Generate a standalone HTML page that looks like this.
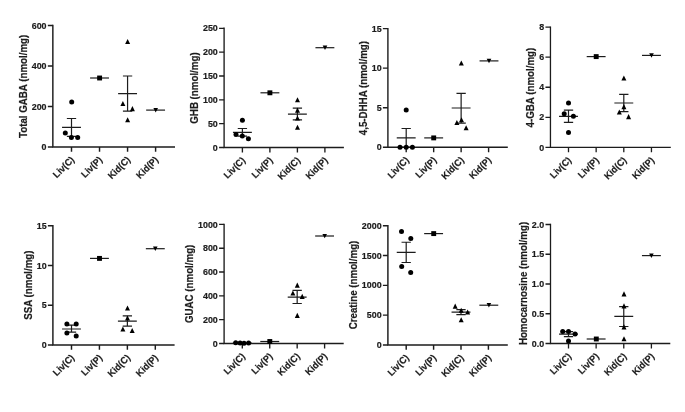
<!DOCTYPE html>
<html><head><meta charset="utf-8"><title>chart</title>
<style>html,body{margin:0;padding:0;background:#fff;overflow:hidden;}svg{display:block;will-change:transform;}text{font-family:"Liberation Sans",sans-serif;font-weight:bold;fill:#1c1c1c;stroke:#1c1c1c;stroke-width:0.2px;}.t{font-size:9.5px;}.x{font-size:9.5px;}.y{font-size:10.1px;}</style></head><body>
<svg width="685" height="412" viewBox="0 0 685 412">
<rect width="685" height="412" fill="#ffffff"/>
<g stroke="#1c1c1c" stroke-width="1.45" fill="none">
<path d="M52.85 24.77 V146.90 H175.00"/>
<path d="M47.85 146.90 H52.85 M47.85 106.43 H52.85 M47.85 65.97 H52.85 M47.85 25.50 H52.85"/>
<path d="M71.50 146.90 V151.80 M99.53 146.90 V151.80 M127.57 146.90 V151.80 M155.60 146.90 V151.80"/>
</g>
<text class="t" transform="translate(46.55 150.00) scale(0.937 1)" text-anchor="end">0</text>
<text class="t" transform="translate(46.55 109.53) scale(0.937 1)" text-anchor="end">200</text>
<text class="t" transform="translate(46.55 69.07) scale(0.937 1)" text-anchor="end">400</text>
<text class="t" transform="translate(46.55 28.60) scale(0.937 1)" text-anchor="end">600</text>
<text class="x" transform="translate(74.90 160.30) rotate(-45) scale(0.957 1)" text-anchor="end">Liv(C)</text>
<text class="x" transform="translate(102.93 160.30) rotate(-45) scale(0.957 1)" text-anchor="end">Liv(P)</text>
<text class="x" transform="translate(130.97 160.30) rotate(-45) scale(0.957 1)" text-anchor="end">Kid(C)</text>
<text class="x" transform="translate(159.00 160.30) rotate(-45) scale(0.957 1)" text-anchor="end">Kid(P)</text>
<text class="y" transform="translate(26.90 138.00) rotate(-90) scale(0.965 1)">Total GABA (nmol/mg)</text>
<path d="M62.05 127.40 H80.95 M71.50 118.50 V136.30 M66.85 118.50 H76.15 M66.85 136.30 H76.15" stroke="#1c1c1c" stroke-width="1.2" fill="none"/>
<g fill="#000">
<circle cx="71.70" cy="101.90" r="2.5"/>
<circle cx="65.30" cy="133.10" r="2.5"/>
<circle cx="71.40" cy="137.50" r="2.5"/>
<circle cx="77.70" cy="137.50" r="2.5"/>
</g>
<path d="M90.08 78.00 H108.98" stroke="#1c1c1c" stroke-width="1.2" fill="none"/>
<g fill="#000">
<rect x="97.15" y="75.55" width="4.9" height="4.9"/>
</g>
<path d="M118.12 93.70 H137.02 M127.57 76.00 V111.20 M122.92 76.00 H132.22 M122.92 111.20 H132.22" stroke="#1c1c1c" stroke-width="1.2" fill="none"/>
<g fill="#000">
<path d="M127.60 39.00 L130.10 44.10 L125.10 44.10 Z"/>
<path d="M122.90 101.00 L125.40 106.10 L120.40 106.10 Z"/>
<path d="M132.40 106.10 L134.90 111.20 L129.90 111.20 Z"/>
<path d="M127.60 117.20 L130.10 122.30 L125.10 122.30 Z"/>
</g>
<path d="M146.15 110.10 H165.05" stroke="#1c1c1c" stroke-width="1.2" fill="none"/>
<g fill="#000">
<path d="M155.70 112.40 L158.00 108.00 L153.40 108.00 Z"/>
</g>
<g stroke="#1c1c1c" stroke-width="1.35" fill="none">
<path d="M224.10 27.62 V147.50 H343.90"/>
<path d="M219.10 147.50 H224.10 M219.10 123.66 H224.10 M219.10 99.82 H224.10 M219.10 75.98 H224.10 M219.10 52.14 H224.10 M219.10 28.30 H224.10"/>
<path d="M242.40 147.50 V152.40 M269.90 147.50 V152.40 M297.40 147.50 V152.40 M324.90 147.50 V152.40"/>
</g>
<text class="t" transform="translate(217.80 150.60) scale(0.937 1)" text-anchor="end">0</text>
<text class="t" transform="translate(217.80 126.76) scale(0.937 1)" text-anchor="end">50</text>
<text class="t" transform="translate(217.80 102.92) scale(0.937 1)" text-anchor="end">100</text>
<text class="t" transform="translate(217.80 79.08) scale(0.937 1)" text-anchor="end">150</text>
<text class="t" transform="translate(217.80 55.24) scale(0.937 1)" text-anchor="end">200</text>
<text class="t" transform="translate(217.80 31.40) scale(0.937 1)" text-anchor="end">250</text>
<text class="x" transform="translate(245.80 160.90) rotate(-45) scale(0.957 1)" text-anchor="end">Liv(C)</text>
<text class="x" transform="translate(273.30 160.90) rotate(-45) scale(0.957 1)" text-anchor="end">Liv(P)</text>
<text class="x" transform="translate(300.80 160.90) rotate(-45) scale(0.957 1)" text-anchor="end">Kid(C)</text>
<text class="x" transform="translate(328.30 160.90) rotate(-45) scale(0.957 1)" text-anchor="end">Kid(P)</text>
<text class="y" transform="translate(197.80 123.70) rotate(-90) scale(0.965 1)">GHB (nmol/mg)</text>
<path d="M232.95 132.40 H251.85 M242.40 128.50 V136.20 M237.75 128.50 H247.05 M237.75 136.20 H247.05" stroke="#1c1c1c" stroke-width="1.2" fill="none"/>
<g fill="#000">
<circle cx="242.40" cy="120.20" r="2.5"/>
<circle cx="236.00" cy="134.60" r="2.5"/>
<circle cx="242.30" cy="135.90" r="2.5"/>
<circle cx="248.40" cy="138.75" r="2.5"/>
</g>
<path d="M260.45 92.80 H279.35" stroke="#1c1c1c" stroke-width="1.2" fill="none"/>
<g fill="#000">
<rect x="267.45" y="90.35" width="4.9" height="4.9"/>
</g>
<path d="M287.95 114.10 H306.85 M297.40 108.20 V119.90 M292.75 108.20 H302.05 M292.75 119.90 H302.05" stroke="#1c1c1c" stroke-width="1.2" fill="none"/>
<g fill="#000">
<path d="M297.50 97.20 L300.00 102.30 L295.00 102.30 Z"/>
<path d="M297.50 107.60 L300.00 112.70 L295.00 112.70 Z"/>
<path d="M297.50 115.50 L300.00 120.60 L295.00 120.60 Z"/>
<path d="M297.50 124.70 L300.00 129.80 L295.00 129.80 Z"/>
</g>
<path d="M315.45 47.70 H334.35" stroke="#1c1c1c" stroke-width="1.2" fill="none"/>
<g fill="#000">
<path d="M325.00 50.00 L327.30 45.60 L322.70 45.60 Z"/>
</g>
<g stroke="#1c1c1c" stroke-width="1.4" fill="none">
<path d="M387.90 27.90 V147.30 H507.80"/>
<path d="M382.90 147.30 H387.90 M382.90 107.73 H387.90 M382.90 68.17 H387.90 M382.90 28.60 H387.90"/>
<path d="M406.20 147.30 V152.20 M433.67 147.30 V152.20 M461.13 147.30 V152.20 M488.60 147.30 V152.20"/>
</g>
<text class="t" transform="translate(381.60 150.40) scale(0.937 1)" text-anchor="end">0</text>
<text class="t" transform="translate(381.60 110.83) scale(0.937 1)" text-anchor="end">5</text>
<text class="t" transform="translate(381.60 71.27) scale(0.937 1)" text-anchor="end">10</text>
<text class="t" transform="translate(381.60 31.70) scale(0.937 1)" text-anchor="end">15</text>
<text class="x" transform="translate(409.60 160.70) rotate(-45) scale(0.957 1)" text-anchor="end">Liv(C)</text>
<text class="x" transform="translate(437.07 160.70) rotate(-45) scale(0.957 1)" text-anchor="end">Liv(P)</text>
<text class="x" transform="translate(464.53 160.70) rotate(-45) scale(0.957 1)" text-anchor="end">Kid(C)</text>
<text class="x" transform="translate(492.00 160.70) rotate(-45) scale(0.957 1)" text-anchor="end">Kid(P)</text>
<text class="y" transform="translate(366.90 135.20) rotate(-90) scale(0.965 1)">4,5-DHHA (nmol/mg)</text>
<path d="M396.75 137.90 H415.65 M406.20 128.50 V147.30 M401.55 128.50 H410.85 M401.55 147.30 H410.85" stroke="#1c1c1c" stroke-width="1.2" fill="none"/>
<g fill="#000">
<circle cx="406.20" cy="110.00" r="2.5"/>
<circle cx="400.00" cy="147.20" r="2.5"/>
<circle cx="406.20" cy="147.20" r="2.5"/>
<circle cx="412.40" cy="147.20" r="2.5"/>
</g>
<path d="M424.22 137.90 H443.12" stroke="#1c1c1c" stroke-width="1.2" fill="none"/>
<g fill="#000">
<rect x="431.25" y="135.45" width="4.9" height="4.9"/>
</g>
<path d="M451.68 108.00 H470.58 M461.13 93.30 V123.20 M456.48 93.30 H465.78 M456.48 123.20 H465.78" stroke="#1c1c1c" stroke-width="1.2" fill="none"/>
<g fill="#000">
<path d="M461.30 60.50 L463.80 65.60 L458.80 65.60 Z"/>
<path d="M456.90 119.90 L459.40 125.00 L454.40 125.00 Z"/>
<path d="M461.50 117.20 L464.00 122.30 L459.00 122.30 Z"/>
<path d="M466.10 125.20 L468.60 130.30 L463.60 130.30 Z"/>
</g>
<path d="M479.55 60.90 H498.45" stroke="#1c1c1c" stroke-width="1.2" fill="none"/>
<g fill="#000">
<path d="M489.00 63.20 L491.30 58.80 L486.70 58.80 Z"/>
</g>
<g stroke="#1c1c1c" stroke-width="1.3" fill="none">
<path d="M550.45 26.45 V147.40 H670.80"/>
<path d="M545.45 147.40 H550.45 M545.45 117.33 H550.45 M545.45 87.25 H550.45 M545.45 57.17 H550.45 M545.45 27.10 H550.45"/>
<path d="M568.50 147.40 V152.30 M596.15 147.40 V152.30 M623.80 147.40 V152.30 M651.45 147.40 V152.30"/>
</g>
<text class="t" transform="translate(544.15 150.50) scale(0.937 1)" text-anchor="end">0</text>
<text class="t" transform="translate(544.15 120.42) scale(0.937 1)" text-anchor="end">2</text>
<text class="t" transform="translate(544.15 90.35) scale(0.937 1)" text-anchor="end">4</text>
<text class="t" transform="translate(544.15 60.27) scale(0.937 1)" text-anchor="end">6</text>
<text class="t" transform="translate(544.15 30.20) scale(0.937 1)" text-anchor="end">8</text>
<text class="x" transform="translate(571.90 160.80) rotate(-45) scale(0.957 1)" text-anchor="end">Liv(C)</text>
<text class="x" transform="translate(599.55 160.80) rotate(-45) scale(0.957 1)" text-anchor="end">Liv(P)</text>
<text class="x" transform="translate(627.20 160.80) rotate(-45) scale(0.957 1)" text-anchor="end">Kid(C)</text>
<text class="x" transform="translate(654.85 160.80) rotate(-45) scale(0.957 1)" text-anchor="end">Kid(P)</text>
<text class="y" transform="translate(533.70 127.40) rotate(-90) scale(0.965 1)">4-GBA (nmol/mg)</text>
<path d="M559.05 116.30 H577.95 M568.50 110.20 V122.30 M563.85 110.20 H573.15 M563.85 122.30 H573.15" stroke="#1c1c1c" stroke-width="1.2" fill="none"/>
<g fill="#000">
<circle cx="568.50" cy="102.90" r="2.5"/>
<circle cx="564.20" cy="113.80" r="2.5"/>
<circle cx="573.40" cy="116.30" r="2.5"/>
<circle cx="568.50" cy="132.40" r="2.5"/>
</g>
<path d="M586.70 56.60 H605.60" stroke="#1c1c1c" stroke-width="1.2" fill="none"/>
<g fill="#000">
<rect x="593.75" y="54.15" width="4.9" height="4.9"/>
</g>
<path d="M614.35 103.00 H633.25 M623.80 94.30 V111.70 M619.15 94.30 H628.45 M619.15 111.70 H628.45" stroke="#1c1c1c" stroke-width="1.2" fill="none"/>
<g fill="#000">
<path d="M623.90 75.50 L626.40 80.60 L621.40 80.60 Z"/>
<path d="M623.90 104.10 L626.40 109.20 L621.40 109.20 Z"/>
<path d="M619.30 109.40 L621.80 114.50 L616.80 114.50 Z"/>
<path d="M628.60 114.10 L631.10 119.20 L626.10 119.20 Z"/>
</g>
<path d="M642.00 55.40 H660.90" stroke="#1c1c1c" stroke-width="1.2" fill="none"/>
<g fill="#000">
<path d="M651.50 57.70 L653.80 53.30 L649.20 53.30 Z"/>
</g>
<g stroke="#1c1c1c" stroke-width="1.45" fill="none">
<path d="M52.90 225.08 V344.90 H174.60"/>
<path d="M47.90 344.90 H52.90 M47.90 305.20 H52.90 M47.90 265.50 H52.90 M47.90 225.80 H52.90"/>
<path d="M71.50 344.90 V349.80 M99.43 344.90 V349.80 M127.37 344.90 V349.80 M155.30 344.90 V349.80"/>
</g>
<text class="t" transform="translate(46.60 348.00) scale(0.937 1)" text-anchor="end">0</text>
<text class="t" transform="translate(46.60 308.30) scale(0.937 1)" text-anchor="end">5</text>
<text class="t" transform="translate(46.60 268.60) scale(0.937 1)" text-anchor="end">10</text>
<text class="t" transform="translate(46.60 228.90) scale(0.937 1)" text-anchor="end">15</text>
<text class="x" transform="translate(74.90 358.30) rotate(-45) scale(0.957 1)" text-anchor="end">Liv(C)</text>
<text class="x" transform="translate(102.83 358.30) rotate(-45) scale(0.957 1)" text-anchor="end">Liv(P)</text>
<text class="x" transform="translate(130.77 358.30) rotate(-45) scale(0.957 1)" text-anchor="end">Kid(C)</text>
<text class="x" transform="translate(158.70 358.30) rotate(-45) scale(0.957 1)" text-anchor="end">Kid(P)</text>
<text class="y" transform="translate(31.60 319.80) rotate(-90) scale(0.965 1)">SSA (nmol/mg)</text>
<path d="M62.05 329.00 H80.95 M71.50 325.20 V332.20 M66.85 325.20 H76.15 M66.85 332.20 H76.15" stroke="#1c1c1c" stroke-width="1.2" fill="none"/>
<g fill="#000">
<circle cx="66.90" cy="323.90" r="2.5"/>
<circle cx="76.20" cy="323.90" r="2.5"/>
<circle cx="66.90" cy="333.10" r="2.5"/>
<circle cx="76.20" cy="336.00" r="2.5"/>
</g>
<path d="M89.98 258.40 H108.88" stroke="#1c1c1c" stroke-width="1.2" fill="none"/>
<g fill="#000">
<rect x="97.05" y="255.95" width="4.9" height="4.9"/>
</g>
<path d="M117.92 321.10 H136.82 M127.37 315.80 V326.20 M122.72 315.80 H132.02 M122.72 326.20 H132.02" stroke="#1c1c1c" stroke-width="1.2" fill="none"/>
<g fill="#000">
<path d="M127.50 305.50 L130.00 310.60 L125.00 310.60 Z"/>
<path d="M127.50 315.50 L130.00 320.60 L125.00 320.60 Z"/>
<path d="M122.90 326.40 L125.40 331.50 L120.40 331.50 Z"/>
<path d="M132.20 327.90 L134.70 333.00 L129.70 333.00 Z"/>
</g>
<path d="M145.85 248.70 H164.75" stroke="#1c1c1c" stroke-width="1.2" fill="none"/>
<g fill="#000">
<path d="M155.30 251.00 L157.60 246.60 L153.00 246.60 Z"/>
</g>
<g stroke="#1c1c1c" stroke-width="1.35" fill="none">
<path d="M224.10 223.72 V343.50 H343.70"/>
<path d="M219.10 343.50 H224.10 M219.10 319.68 H224.10 M219.10 295.86 H224.10 M219.10 272.04 H224.10 M219.10 248.22 H224.10 M219.10 224.40 H224.10"/>
<path d="M242.30 343.50 V348.40 M269.73 343.50 V348.40 M297.17 343.50 V348.40 M324.60 343.50 V348.40"/>
</g>
<text class="t" transform="translate(217.80 346.60) scale(0.937 1)" text-anchor="end">0</text>
<text class="t" transform="translate(217.80 322.78) scale(0.937 1)" text-anchor="end">200</text>
<text class="t" transform="translate(217.80 298.96) scale(0.937 1)" text-anchor="end">400</text>
<text class="t" transform="translate(217.80 275.14) scale(0.937 1)" text-anchor="end">600</text>
<text class="t" transform="translate(217.80 251.32) scale(0.937 1)" text-anchor="end">800</text>
<text class="t" transform="translate(217.80 227.50) scale(0.937 1)" text-anchor="end">1000</text>
<text class="x" transform="translate(245.70 356.90) rotate(-45) scale(0.957 1)" text-anchor="end">Liv(C)</text>
<text class="x" transform="translate(273.13 356.90) rotate(-45) scale(0.957 1)" text-anchor="end">Liv(P)</text>
<text class="x" transform="translate(300.57 356.90) rotate(-45) scale(0.957 1)" text-anchor="end">Kid(C)</text>
<text class="x" transform="translate(328.00 356.90) rotate(-45) scale(0.957 1)" text-anchor="end">Kid(P)</text>
<text class="y" transform="translate(193.20 323.00) rotate(-90) scale(0.965 1)">GUAC (nmol/mg)</text>
<path d="M232.85 343.00 H251.75" stroke="#1c1c1c" stroke-width="1.2" fill="none"/>
<g fill="#000">
<circle cx="235.70" cy="342.70" r="2.5"/>
<circle cx="240.10" cy="343.10" r="2.5"/>
<circle cx="244.00" cy="343.30" r="2.5"/>
<circle cx="248.60" cy="343.10" r="2.5"/>
</g>
<path d="M260.28 341.50 H279.18" stroke="#1c1c1c" stroke-width="1.2" fill="none"/>
<g fill="#000">
<rect x="267.35" y="339.05" width="4.9" height="4.9"/>
</g>
<path d="M287.72 297.20 H306.62 M297.17 290.40 V303.50 M292.52 290.40 H301.82 M292.52 303.50 H301.82" stroke="#1c1c1c" stroke-width="1.2" fill="none"/>
<g fill="#000">
<path d="M297.30 282.60 L299.80 287.70 L294.80 287.70 Z"/>
<path d="M292.90 290.40 L295.40 295.50 L290.40 295.50 Z"/>
<path d="M302.20 293.80 L304.70 298.90 L299.70 298.90 Z"/>
<path d="M297.30 312.80 L299.80 317.90 L294.80 317.90 Z"/>
</g>
<path d="M315.15 236.00 H334.05" stroke="#1c1c1c" stroke-width="1.2" fill="none"/>
<g fill="#000">
<path d="M324.70 238.30 L327.00 233.90 L322.40 233.90 Z"/>
</g>
<g stroke="#1c1c1c" stroke-width="1.45" fill="none">
<path d="M387.90 225.08 V344.90 H507.80"/>
<path d="M382.90 344.90 H387.90 M382.90 315.12 H387.90 M382.90 285.35 H387.90 M382.90 255.57 H387.90 M382.90 225.80 H387.90"/>
<path d="M406.20 344.90 V349.80 M433.60 344.90 V349.80 M461.00 344.90 V349.80 M488.40 344.90 V349.80"/>
</g>
<text class="t" transform="translate(381.60 348.00) scale(0.937 1)" text-anchor="end">0</text>
<text class="t" transform="translate(381.60 318.23) scale(0.937 1)" text-anchor="end">500</text>
<text class="t" transform="translate(381.60 288.45) scale(0.937 1)" text-anchor="end">1000</text>
<text class="t" transform="translate(381.60 258.68) scale(0.937 1)" text-anchor="end">1500</text>
<text class="t" transform="translate(381.60 228.90) scale(0.937 1)" text-anchor="end">2000</text>
<text class="x" transform="translate(409.60 358.30) rotate(-45) scale(0.957 1)" text-anchor="end">Liv(C)</text>
<text class="x" transform="translate(437.00 358.30) rotate(-45) scale(0.957 1)" text-anchor="end">Liv(P)</text>
<text class="x" transform="translate(464.40 358.30) rotate(-45) scale(0.957 1)" text-anchor="end">Kid(C)</text>
<text class="x" transform="translate(491.80 358.30) rotate(-45) scale(0.957 1)" text-anchor="end">Kid(P)</text>
<text class="y" transform="translate(357.30 329.30) rotate(-90) scale(0.965 1)">Creatine (nmol/mg)</text>
<path d="M396.75 252.30 H415.65 M406.20 242.25 V262.50 M401.55 242.25 H410.85 M401.55 262.50 H410.85" stroke="#1c1c1c" stroke-width="1.2" fill="none"/>
<g fill="#000">
<circle cx="401.50" cy="231.50" r="2.5"/>
<circle cx="410.80" cy="238.40" r="2.5"/>
<circle cx="401.70" cy="266.60" r="2.5"/>
<circle cx="410.70" cy="272.40" r="2.5"/>
</g>
<path d="M424.15 233.60 H443.05" stroke="#1c1c1c" stroke-width="1.2" fill="none"/>
<g fill="#000">
<rect x="431.25" y="231.15" width="4.9" height="4.9"/>
</g>
<path d="M451.55 312.10 H470.45 M461.00 309.70 V314.60 M456.35 309.70 H465.65 M456.35 314.60 H465.65" stroke="#1c1c1c" stroke-width="1.2" fill="none"/>
<g fill="#000">
<path d="M455.20 303.60 L457.70 308.70 L452.70 308.70 Z"/>
<path d="M461.20 307.70 L463.70 312.80 L458.70 312.80 Z"/>
<path d="M467.60 309.40 L470.10 314.50 L465.10 314.50 Z"/>
<path d="M461.20 317.20 L463.70 322.30 L458.70 322.30 Z"/>
</g>
<path d="M479.35 305.20 H498.25" stroke="#1c1c1c" stroke-width="1.2" fill="none"/>
<g fill="#000">
<path d="M488.90 307.50 L491.20 303.10 L486.60 303.10 Z"/>
</g>
<g stroke="#1c1c1c" stroke-width="1.3" fill="none">
<path d="M550.50 223.85 V343.50 H670.30"/>
<path d="M545.50 343.50 H550.50 M545.50 313.75 H550.50 M545.50 284.00 H550.50 M545.50 254.25 H550.50 M545.50 224.50 H550.50"/>
<path d="M568.50 343.50 V348.40 M596.13 343.50 V348.40 M623.77 343.50 V348.40 M651.40 343.50 V348.40"/>
</g>
<text class="t" transform="translate(544.20 346.60) scale(0.937 1)" text-anchor="end">0.0</text>
<text class="t" transform="translate(544.20 316.85) scale(0.937 1)" text-anchor="end">0.5</text>
<text class="t" transform="translate(544.20 287.10) scale(0.937 1)" text-anchor="end">1.0</text>
<text class="t" transform="translate(544.20 257.35) scale(0.937 1)" text-anchor="end">1.5</text>
<text class="t" transform="translate(544.20 227.60) scale(0.937 1)" text-anchor="end">2.0</text>
<text class="x" transform="translate(571.90 356.90) rotate(-45) scale(0.957 1)" text-anchor="end">Liv(C)</text>
<text class="x" transform="translate(599.53 356.90) rotate(-45) scale(0.957 1)" text-anchor="end">Liv(P)</text>
<text class="x" transform="translate(627.17 356.90) rotate(-45) scale(0.957 1)" text-anchor="end">Kid(C)</text>
<text class="x" transform="translate(654.80 356.90) rotate(-45) scale(0.957 1)" text-anchor="end">Kid(P)</text>
<text class="y" transform="translate(526.80 345.10) rotate(-90) scale(0.965 1)">Homocarnosine (nmol/mg)</text>
<path d="M559.05 334.10 H577.95 M568.50 331.60 V336.60 M563.85 331.60 H573.15 M563.85 336.60 H573.15" stroke="#1c1c1c" stroke-width="1.2" fill="none"/>
<g fill="#000">
<circle cx="562.70" cy="331.60" r="2.5"/>
<circle cx="568.50" cy="331.60" r="2.5"/>
<circle cx="575.10" cy="334.10" r="2.5"/>
<circle cx="568.50" cy="341.00" r="2.5"/>
</g>
<path d="M586.68 339.00 H605.58" stroke="#1c1c1c" stroke-width="1.2" fill="none"/>
<g fill="#000">
<rect x="593.85" y="336.55" width="4.9" height="4.9"/>
</g>
<path d="M614.32 316.40 H633.22 M623.77 306.60 V326.50 M619.12 306.60 H628.42 M619.12 326.50 H628.42" stroke="#1c1c1c" stroke-width="1.2" fill="none"/>
<g fill="#000">
<path d="M624.00 291.30 L626.50 296.40 L621.50 296.40 Z"/>
<path d="M624.00 303.30 L626.50 308.40 L621.50 308.40 Z"/>
<path d="M624.00 324.30 L626.50 329.40 L621.50 329.40 Z"/>
<path d="M624.00 336.20 L626.50 341.30 L621.50 341.30 Z"/>
</g>
<path d="M641.95 255.60 H660.85" stroke="#1c1c1c" stroke-width="1.2" fill="none"/>
<g fill="#000">
<path d="M651.40 257.90 L653.70 253.50 L649.10 253.50 Z"/>
</g>
</svg></body></html>
